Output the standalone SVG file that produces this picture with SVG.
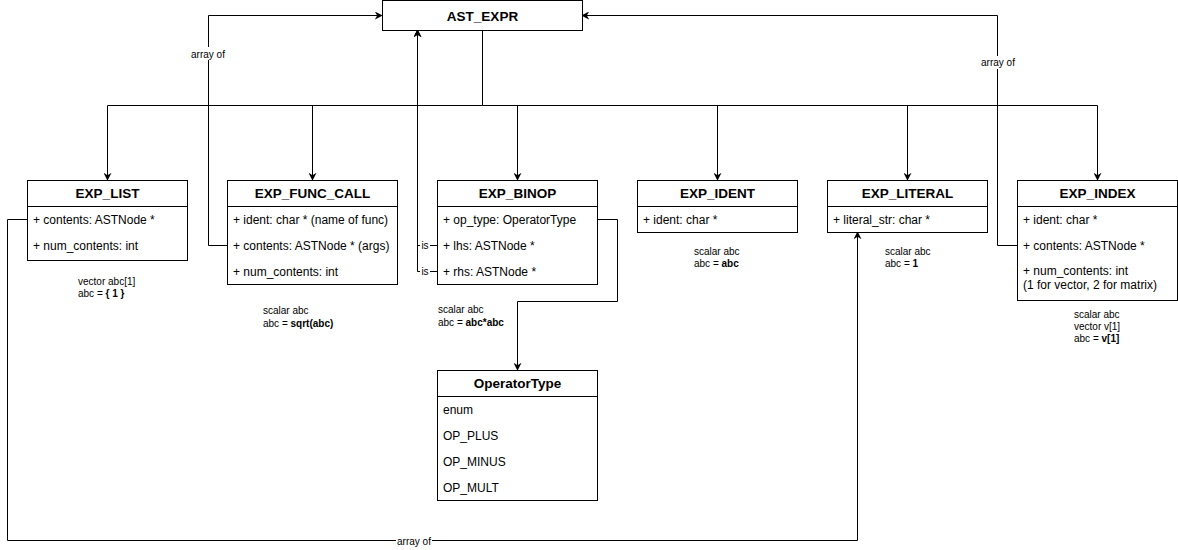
<svg xmlns="http://www.w3.org/2000/svg" width="1178" height="550" viewBox="0 0 1178 550">
<style>
.box{fill:#fff;stroke:#000;stroke-width:1}
.hd{font-family:"Liberation Sans",Arial,sans-serif;font-size:13.5px;font-weight:bold;text-anchor:middle;fill:#000}
.row{font-family:"Liberation Sans",Arial,sans-serif;font-size:12px;fill:#000}
.note{font-family:"Liberation Sans",Arial,sans-serif;font-size:10px;fill:#000}
.lbl{font-family:"Liberation Sans",Arial,sans-serif;font-size:10px;fill:#000;text-anchor:middle}
.ln{fill:none;stroke:#000;stroke-width:1}
.arr{fill:none;stroke:#000;stroke-width:1;marker-end:url(#ah)}
</style>
<defs>
<marker id="ah" viewBox="0 0 10 10" refX="9" refY="5" markerWidth="8" markerHeight="8" orient="auto" markerUnits="userSpaceOnUse">
<path d="M0,0 L10,5 L0,10 L3,5 z" fill="#000"/>
</marker>
</defs>
<rect width="1178" height="550" fill="#fff"/>

<g id="connectors">
<path class="ln" d="M482.5,30 V105.5"/>
<path class="arr" d="M482.5,105.5 H107.5 V180"/>
<path class="arr" d="M312.5,105.5 V180"/>
<path class="arr" d="M482.5,105.5 H1097.5 V180"/>
<path class="arr" d="M517.5,105.5 V180"/>
<path class="arr" d="M717.5,105.5 V180"/>
<path class="arr" d="M907.5,105.5 V180"/>
<path class="arr" d="M227,245.5 H208.5 V15.5 H382"/>
<path class="arr" d="M1017,245.5 H997.5 V15.5 H582"/>
<path class="arr" d="M437,245.5 H417.5 V30"/>
<path class="arr" d="M437,271.5 H417.5 V30"/>
<path class="arr" d="M597,219.5 H617.5 V301.5 H517.5 V370"/>
<path class="arr" d="M27,219.5 H7.5 V540.5 H857.5 V232"/>
<rect x="189" y="47" width="38" height="13" fill="#fff"/>
<text class="lbl" x="208" y="57.5">array of</text>
<rect x="979" y="56" width="38" height="13" fill="#fff"/>
<text class="lbl" x="998" y="66">array of</text>
<rect x="396" y="534" width="36" height="13" fill="#fff"/>
<text class="lbl" x="414" y="544.5">array of</text>
<rect x="420" y="239" width="10" height="13" fill="#fff"/>
<text class="lbl" x="425" y="249">is</text>
<rect x="420" y="265" width="10" height="13" fill="#fff"/>
<text class="lbl" x="425" y="275">is</text>
</g>

<g id="AST_EXPR">
<rect class="box" x="382.5" y="0.5" width="200" height="30"/>
<text class="hd" x="482.5" y="20.5">AST_EXPR</text>
</g>

<g id="EXP_LIST">
<rect class="box" x="27.5" y="180.5" width="160" height="80"/>
<line class="ln" x1="27.5" y1="206.5" x2="187.5" y2="206.5"/>
<text class="hd" x="107.5" y="198">EXP_LIST</text>
<text class="row" x="33" y="223.5">+ contents: ASTNode *</text>
<text class="row" x="33" y="249.5">+ num_contents: int</text>
</g>

<g id="EXP_FUNC_CALL">
<rect class="box" x="227.5" y="180.5" width="170" height="104"/>
<line class="ln" x1="227.5" y1="206.5" x2="397.5" y2="206.5"/>
<text class="hd" x="312.5" y="198">EXP_FUNC_CALL</text>
<text class="row" x="233" y="223.5">+ ident: char * (name of func)</text>
<text class="row" x="233" y="249.5">+ contents: ASTNode * (args)</text>
<text class="row" x="233" y="275.5">+ num_contents: int</text>
</g>

<g id="EXP_BINOP">
<rect class="box" x="437.5" y="180.5" width="160" height="104"/>
<line class="ln" x1="437.5" y1="206.5" x2="597.5" y2="206.5"/>
<text class="hd" x="517.5" y="198">EXP_BINOP</text>
<text class="row" x="443" y="223.5">+ op_type: OperatorType</text>
<text class="row" x="443" y="249.5">+ lhs: ASTNode *</text>
<text class="row" x="443" y="275.5">+ rhs: ASTNode *</text>
</g>

<g id="EXP_IDENT">
<rect class="box" x="637.5" y="180.5" width="160" height="52"/>
<line class="ln" x1="637.5" y1="206.5" x2="797.5" y2="206.5"/>
<text class="hd" x="717.5" y="198">EXP_IDENT</text>
<text class="row" x="643" y="223.5">+ ident: char *</text>
</g>

<g id="EXP_LITERAL">
<rect class="box" x="827.5" y="180.5" width="160" height="52"/>
<line class="ln" x1="827.5" y1="206.5" x2="987.5" y2="206.5"/>
<text class="hd" x="907.5" y="198">EXP_LITERAL</text>
<text class="row" x="833" y="223.5">+ literal_str: char *</text>
</g>

<g id="EXP_INDEX">
<rect class="box" x="1017.5" y="180.5" width="160" height="120"/>
<line class="ln" x1="1017.5" y1="206.5" x2="1177.5" y2="206.5"/>
<text class="hd" x="1097.5" y="198">EXP_INDEX</text>
<text class="row" x="1023" y="223.5">+ ident: char *</text>
<text class="row" x="1023" y="249.5">+ contents: ASTNode *</text>
<text class="row" x="1023" y="275">+ num_contents: int</text>
<text class="row" x="1023" y="289">(1 for vector, 2 for matrix)</text>
</g>

<g id="OperatorType">
<rect class="box" x="437.5" y="370.5" width="160" height="130"/>
<line class="ln" x1="437.5" y1="396.5" x2="597.5" y2="396.5"/>
<text class="hd" x="517.5" y="388">OperatorType</text>
<text class="row" x="443" y="413.5">enum</text>
<text class="row" x="443" y="439.5">OP_PLUS</text>
<text class="row" x="443" y="465.5">OP_MINUS</text>
<text class="row" x="443" y="491.5">OP_MULT</text>
</g>

<g id="notes">
<text class="note" x="78" y="285">vector abc[1]</text>
<text class="note" x="78" y="297">abc = <tspan font-weight="bold">{ 1 }</tspan></text>
<text class="note" x="263" y="314">scalar abc</text>
<text class="note" x="263" y="327">abc = <tspan font-weight="bold">sqrt(abc)</tspan></text>
<text class="note" x="438" y="313">scalar abc</text>
<text class="note" x="438" y="326">abc = <tspan font-weight="bold">abc*abc</tspan></text>
<text class="note" x="694" y="254.5">scalar abc</text>
<text class="note" x="694" y="267">abc = <tspan font-weight="bold">abc</tspan></text>
<text class="note" x="885" y="254.5">scalar abc</text>
<text class="note" x="885" y="267">abc = <tspan font-weight="bold">1</tspan></text>
<text class="note" x="1074" y="318">scalar abc</text>
<text class="note" x="1074" y="330">vector v[1]</text>
<text class="note" x="1074" y="342">abc = <tspan font-weight="bold">v[1]</tspan></text>
</g>
</svg>
